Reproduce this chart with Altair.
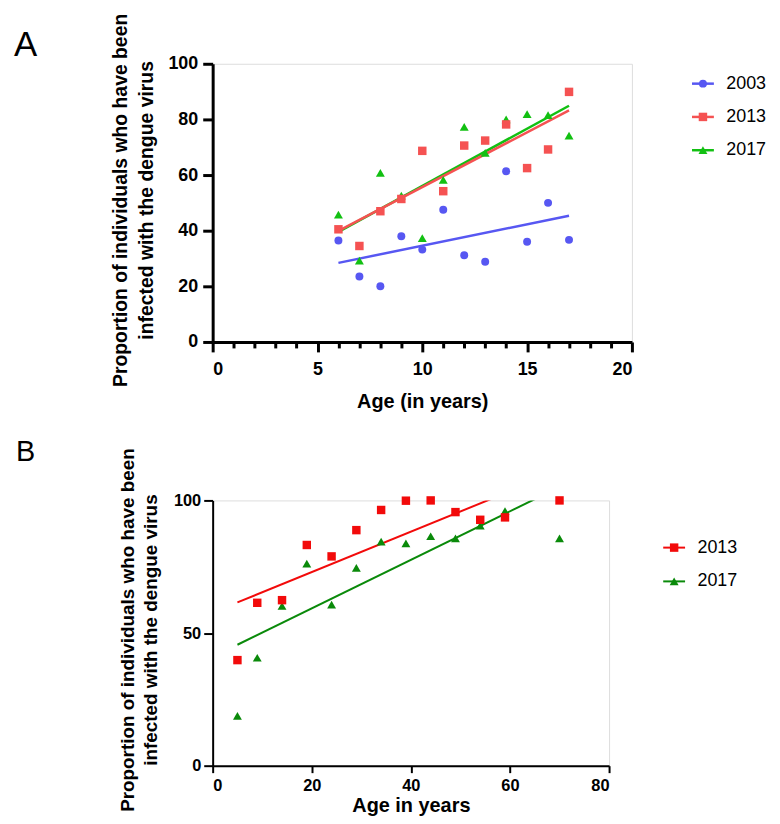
import altair as alt
import pandas as pd

FONT = "Liberation Sans"

# ---------------- Panel A data ----------------
ages_a = [6, 7, 8, 9, 10, 11, 12, 13, 14, 15, 16, 17]
a_2003 = [36.5, 23.5, 20.0, 38.0, 33.2, 47.5, 31.2, 28.8, 61.4, 36.0, 50.0, 36.7]
a_2013 = [40.5, 34.5, 47.0, 51.4, 68.7, 54.2, 70.6, 72.4, 78.2, 62.5, 69.2, 89.9]
a_2017 = [45.8, 29.2, 60.8, 52.6, 37.3, 58.3, 77.3, 68.0, 80.0, 81.9, 81.5, 74.2]
years_a = ["2003", "2013", "2017"]
colors_a = ["#5757F2", "#F55252", "#12C012"]
shapes_a = ["circle", "square", "triangle-up"]
sizes_a = [64, 81, 100]
xticks_a = list(range(0, 21))
yticks_a = [0, 20, 40, 60, 80, 100]

# ---------------- Panel B data ----------------
ages_b = [5, 9, 14, 19, 24, 29, 34, 39, 44, 49, 54, 59, 70]
b_2013 = [39.8, 61.4, 62.4, 83.2, 78.9, 88.8, 96.4, 99.9, 100.0, 95.6, 92.7, 93.6, 100.0]
b_2017 = [18.8, 40.7, 60.2, 76.2, 60.7, 74.6, 84.5, 83.8, 86.5, 85.7, 90.5, 96.0, 85.7]
years_b = ["2013", "2017"]
colors_b = ["#F20A0A", "#0A8A0A"]
shapes_b = ["square", "triangle-up"]
sizes_b = [72, 80]
xticks_b = [0, 20, 40, 60, 80]
yticks_b = [0, 50, 100]

y_title = ["Proportion of individuals who have been", "infected with the dengue virus"]


def long(ages, series):
    rows = []
    for yr, vals in series:
        for a, v in zip(ages, vals):
            rows.append({"age": a, "value": v, "year": yr})
    return pd.DataFrame(rows)


df_a = long(ages_a, [("2017", a_2017), ("2013", a_2013), ("2003", a_2003)])
df_b = long(ages_b, [("2017", b_2017), ("2013", b_2013)])


def panel(df, years, colors, shapes, sizes, W, H, xdom, xticks, yticks,
          xlabel, ax, letter):
    common_axis = dict(
        grid=False, domainColor="black", tickColor="black",
        domainWidth=ax["lw"], tickWidth=ax["lw"],
        labelFont=FONT, labelFontWeight="bold", labelColor="black",
        labelFontSize=ax["lfs"], labelOverlap=False,
        titleFont=FONT, titleFontWeight="bold", titleColor="black",
    )
    xaxis = alt.Axis(
        values=xticks, labelExpr=ax["xlabelExpr"], tickSize=ax["xtick"],
        labelPadding=ax["xlpad"], title=xlabel, titleFontSize=20,
        titleX=W / 2, titleY=ax["xtitleY"], titleBaseline="alphabetic",
        titleAlign="center", **common_axis)
    yaxis = alt.Axis(
        values=yticks, tickSize=ax["ytick"], labelPadding=ax["ylpad"],
        title=y_title, titleFontSize=ax["ytfs"], titleLineHeight=ax["ytlh"],
        titleAngle=270, titleX=ax["ytitleX"], titleY=ax["ytitleY"],
        titleBaseline="alphabetic", titleAlign="center", **common_axis)
    x = alt.X("age:Q", scale=alt.Scale(domain=xdom, nice=False, zero=False), axis=xaxis)
    y = alt.Y("value:Q", scale=alt.Scale(domain=[0, 100], nice=False), axis=yaxis)

    leg_common = dict(title=None, orient="none", legendX=ax["legX"], legendY=ax["legY"],
                      symbolSize=64, labelFont=FONT, labelFontSize=18, labelColor="black",
                      labelOffset=14.5, rowPadding=ax["rowpad"])
    leg_pts = alt.Legend(symbolStrokeWidth=0, zindex=2, **leg_common)
    leg_line = alt.Legend(symbolType="M-2.75,0L2.75,0", symbolStrokeWidth=ax["lw_line"],
                          labelOpacity=0, zindex=1, **leg_common)

    base = alt.Chart(df)
    lines = base.transform_regression(
        "age", "value", groupby=["year"]
    ).transform_calculate(yearL="datum.year").mark_line(
        strokeWidth=ax["lw_line"], clip=True
    ).encode(
        x=x, y=y,
        color=alt.Color("yearL:N", scale=alt.Scale(domain=years, range=colors), legend=leg_line),
    )
    pts = base.mark_point(filled=True, opacity=1).encode(
        x=x, y=y,
        color=alt.Color("year:N", scale=alt.Scale(domain=years, range=colors), legend=leg_pts),
        shape=alt.Shape("year:N", scale=alt.Scale(domain=years, range=shapes), legend=leg_pts),
        size=alt.Size("year:N", scale=alt.Scale(domain=years, range=sizes), legend=None),
    )
    let = alt.Chart(alt.Data(values=[{"t": letter}])).mark_text(
        font=FONT, fontSize=ax["letfs"], align="left", baseline="alphabetic", color="black"
    ).encode(text="t:N", x=alt.value(ax["letX"]), y=alt.value(ax["letY"]))

    return alt.layer(lines, pts, let).resolve_scale(
        color="independent", shape="independent", size="independent"
    ).properties(width=W, height=H)


ax_a = dict(lw=3, lw_line=2.5, lfs=18, xtick={"condition": {"test": "datum.value % 5 === 0", "value": 10}, "value": 6},
            xlabelExpr="datum.value % 5 === 0 ? datum.label : ''",
            xlpad=9, ytick=10, ylpad=5, ytfs=19.5, ytlh=26, ytitleX=-87, ytitleY=137,
            xtitleY=66, legX=484.5, legY=11, rowpad=15.5, letfs=35, letX=-200, letY=-8)
ax_b = dict(lw=2, lw_line=2, lfs=16.5, xtick=7, xlabelExpr="datum.label",
            xlpad=5, ytick=9, ylpad=3, ytfs=19, ytlh=23, ytitleX=-79.4, ytitleY=130,
            xtitleY=46.5, legX=455.5, legY=38.5, rowpad=16, letfs=29, letX=-198, letY=-39.7)

chart_a = panel(df_a, years_a, colors_a, shapes_a, sizes_a, 422, 280, [0, 20],
                xticks_a, yticks_a, "Age (in years)", ax_a, "A")
chart_b = panel(df_b, years_b, colors_b, shapes_b, sizes_b, 399, 267, [0, 80],
                xticks_b, yticks_b, "Age in years", ax_b, "B")

chart = alt.vconcat(chart_a, chart_b, spacing=24.5).resolve_scale(
    color="independent", shape="independent", size="independent"
).properties(
    padding={"left": 5, "right": 5, "top": 1.5, "bottom": -3}
).configure_view(strokeWidth=0).configure(font=FONT)

chart.save("out.html", embed_options={"renderer": "svg", "actions": False})
